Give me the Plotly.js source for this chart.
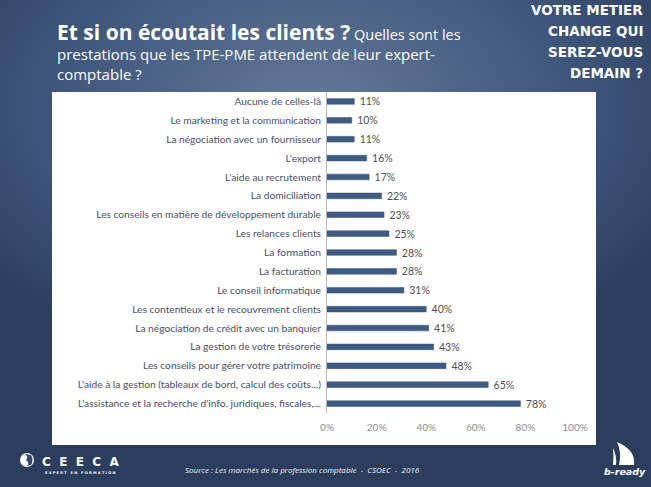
<!DOCTYPE html>
<html>
<head>
<meta charset="utf-8">
<script src="https://cdn.plot.ly/plotly-3.0.1.min.js"></script>
<style>
html,body{margin:0;padding:0;}
#chart{width:651px;height:487px;
background: radial-gradient(ellipse 65% 55% at 48% 22%, #64799a 0%, #4c6286 40%, #3b5176 70%, #2c3e5e 100%);}
</style>
</head>
<body>
<div id="chart"></div>
<script>
const categories = [
  "Aucune de celles-là",
  "Le marketing et la communication",
  "La négociation avec un fournisseur",
  "L'export",
  "L'aide au recrutement",
  "La domiciliation",
  "Les conseils en matière de développement durable",
  "Les relances clients",
  "La formation",
  "La facturation",
  "Le conseil informatique",
  "Les contentieux et le recouvrement clients",
  "La négociation de crédit avec un banquier",
  "La gestion de votre trésorerie",
  "Les conseils pour gérer votre patrimoine",
  "L'aide à la gestion (tableaux de bord, calcul des coûts...)",
  "L'assistance et la recherche d'info. juridiques, fiscales,..."
];
const shares = [0.11,0.10,0.11,0.16,0.17,0.22,0.23,0.25,0.28,0.28,0.31,0.40,0.41,0.43,0.48,0.65,0.78];
const xTickValues = [0,0.2,0.4,0.6,0.8,1.0];
const xTickLabels = ["0%","20%","40%","60%","80%","100%"];

const trace = {
  type:'bar', orientation:'h',
  x: shares, y: categories,
  width: 0.3,
  marker:{color:'#3f5b82', line:{color:'#35507a', width:0.5}},
  texttemplate:'\u00a0\u00a0%{x:.0%}', textposition:'outside', cliponaxis:false, constraintext:'none',
  textfont:{family:'Lato, "Open Sans", sans-serif', size:10.5, color:'#505050'},
  hoverinfo:'none'
};

// pixel -> paper helpers (plot area: x 327..575, y 92..413)
const px = v => (v - 327) / 248;
const py = v => (413 - v) / 321;

const white = '#ffffff';
const rightTitle = ["VOTRE METIER","CHANGE QUI","SEREZ-VOUS","DEMAIN ?"];
const rightY = [10.5, 31, 52, 73];

const annotations = [
  {x:px(55), y:py(32), xanchor:'left', yanchor:'middle',
   text:'<b><span style="font-size:21px">Et si on écoutait les clients ?</span></b> Quelles sont les',
   font:{family:'"Open Sans", Lato, sans-serif', size:14.5, color:white}},
  {x:px(55), y:py(54), xanchor:'left', yanchor:'middle',
   text:'prestations que les TPE-PME attendent de leur expert-',
   font:{family:'"Open Sans", Lato, sans-serif', size:15, color:white}},
  {x:px(55), y:py(74), xanchor:'left', yanchor:'middle',
   text:'comptable ?',
   font:{family:'"Open Sans", Lato, sans-serif', size:15, color:white}},
  {x:px(80), y:py(462), xanchor:'center', yanchor:'middle',
   text:'<b>C  E  E  C  A</b>',
   font:{family:'"DejaVu Sans", sans-serif', size:12, color:white}},
  {x:px(80), y:py(472.5), xanchor:'center', yanchor:'middle',
   text:'<b>E X P E R T   E N   F O R M A T I O N</b>',
   font:{family:'"DejaVu Sans", sans-serif', size:3.6, color:white}},
  {x:px(183), y:py(470), xanchor:'left', yanchor:'middle',
   text:'<i>Source : Les marchés de la profession comptable  -  CSOEC  -  2016</i>',
   font:{family:'"Liberation Sans Narrow", "Open Sans", sans-serif', size:8, color:'#eef0f4'}},
  {x:px(625), y:py(472), xanchor:'center', yanchor:'middle',
   text:'<b><i>b-ready</i></b>',
   font:{family:'"DejaVu Sans", sans-serif', size:9.5, color:white}}
];
rightTitle.forEach((t,i) => annotations.push({
  x:px(645), y:py(rightY[i]), xanchor:'right', yanchor:'middle',
  text:'<b>'+t+'</b>', font:{family:'"DejaVu Sans", sans-serif', size:13.5, color:white}
}));
annotations.forEach(a => { a.xref='paper'; a.yref='paper'; a.showarrow=false; a.align = a.align || 'left'; });

const layout = {
  width:651, height:487,
  margin:{l:327, r:76, t:92, b:74, pad:0},
  paper_bgcolor:'rgba(0,0,0,0)', plot_bgcolor:'rgba(0,0,0,0)',
  showlegend:false,
  xaxis:{range:[0,1], tickvals:xTickValues, ticktext:xTickLabels,
    showgrid:false, zeroline:false, showline:false,
    ticks:'outside', ticklen:5, tickcolor:'rgba(0,0,0,0)',
    tickfont:{family:'Lato, "Open Sans", sans-serif', size:10, color:'#8c8c8c'}, fixedrange:true},
  yaxis:{autorange:'reversed', showgrid:false, zeroline:false,
    showline:true, linecolor:'#b8b8b8', linewidth:1,
    ticks:'outside', ticklen:3, tickcolor:'rgba(0,0,0,0)',
    tickfont:{family:'Lato, "Open Sans", sans-serif', size:10.2, color:'#4a5068'}, fixedrange:true},
  shapes:[
    {type:'rect', xref:'paper', yref:'paper', x0:px(52), x1:px(596), y0:py(445), y1:py(92),
     fillcolor:white, line:{width:0}, layer:'below'},
    // CEECA globe logo
    {type:'circle', xref:'paper', yref:'paper', x0:px(20), x1:px(34), y0:py(467), y1:py(453),
     fillcolor:white, line:{width:0}},
    {type:'path', xref:'paper', yref:'paper',
     path:`M ${px(25)} ${py(454)} Q ${px(29)} ${py(457)} ${px(26)} ${py(460)} Q ${px(30)} ${py(463)} ${px(27)} ${py(466)} L ${px(31)} ${py(465)} Q ${px(34)} ${py(460)} ${px(31)} ${py(455)} Z`,
     fillcolor:'#34496c', line:{width:0}},
    // b-ready sail
    {type:'path', xref:'paper', yref:'paper',
     path:`M ${px(617)} ${py(442)} Q ${px(636)} ${py(450)} ${px(634)} ${py(465)} L ${px(619)} ${py(465)} Q ${px(622)} ${py(452)} ${px(617)} ${py(442)} Z`,
     fillcolor:white, line:{width:0}},
    {type:'path', xref:'paper', yref:'paper',
     path:`M ${px(613)} ${py(448)} Q ${px(617)} ${py(456)} ${px(616)} ${py(465)} L ${px(613)} ${py(465)} Q ${px(614)} ${py(456)} ${px(613)} ${py(448)} Z`,
     fillcolor:white, line:{width:0}}
  ],
  annotations: annotations
};

Plotly.newPlot('chart', [trace], layout, {displayModeBar:false, staticPlot:true});
</script>
</body>
</html>
